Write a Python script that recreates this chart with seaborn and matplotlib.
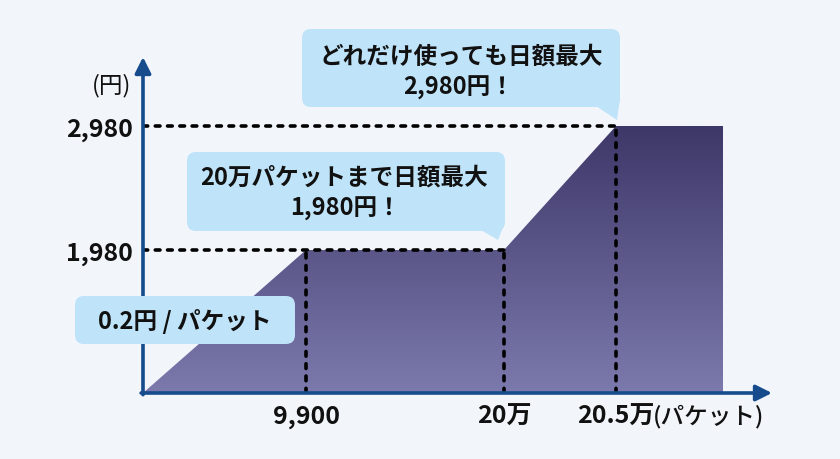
import numpy as np
import pandas as pd
import matplotlib
matplotlib.use("Agg")
import matplotlib.pyplot as plt
import seaborn as sns
from matplotlib.patches import FancyBboxPatch, Polygon
from matplotlib.colors import LinearSegmentedColormap
from matplotlib.transforms import Affine2D

# ---------------- data ----------------
packets = [0, 9900, 200000, 205000, 210000]
price = [0, 1980, 1980, 2980, 2980]
x_tick_values = [9900, 200000, 205000]
x_tick_labels = ["9,900", "20万", "20.5万"]
y_tick_values = [1980, 2980]
y_tick_labels = ["1,980", "2,980"]
x_unit = "(パケット)"
y_unit = "(円)"
callout_top = ["どれだけ使っても日額最大", "2,980円！"]
callout_mid = ["20万パケットまで日額最大", "1,980円！"]
callout_rate = "0.2円 / パケット"

# ---------------- style ----------------
sns.set_theme(style="white")
plt.rcParams["font.family"] = ["Noto Sans CJK JP", "DejaVu Sans"]
BG = "#f2f6fb"
AXIS_C = "#164c8c"
BOX_C = "#bfe3f8"
TOP_C = "#3d3868"
BOT_C = "#7c79ad"

W, H = 840, 460
fig = plt.figure(figsize=(W / 100, H / 100), dpi=100)
fig.patch.set_facecolor(BG)

# plot area in pixels
L, R, T, B = 143, 772, 58, 394
ax = fig.add_axes([L / W, (H - B) / H, (R - L) / W, (B - T) / H])
ax.set_facecolor("none")

# schematic (not-to-scale) axis scales: value breakpoints -> pixel offsets
XB = [0, 9900, 200000, 205000, 210000, 260000]
XP = [0, 163, 361, 473, 580, 1650]
YB = [0, 1980, 2980, 4980]
YP = [0, 143, 267, 515]


def xf(v):
    return np.interp(v, XB, XP)


def xi(p):
    return np.interp(p, XP, XB)


def yf(v):
    return np.interp(v, YB, YP)


def yi(p):
    return np.interp(p, YP, YB)


ax.set_xscale("function", functions=(xf, xi))
ax.set_yscale("function", functions=(yf, yi))

# area polygon with gradient
poly_pts = np.column_stack([packets + [packets[-1]], price + [0]])
poly = Polygon(poly_pts, closed=True, facecolor="none", edgecolor="none")
ax.add_patch(poly)
cmap = LinearSegmentedColormap.from_list("g", [BOT_C, TOP_C])
grad = np.linspace(0, 1, 256).reshape(-1, 1)
top_frac = float(yf(max(price))) / (B - T)
im = ax.imshow(grad, extent=(0, 1, 0, top_frac), transform=ax.transAxes,
               origin="lower", aspect="auto", cmap=cmap, zorder=1)
im.set_clip_path(poly)

# dashed guide lines (seaborn)
level_at_tick = np.interp(x_tick_values, packets, price)
h_end = [x_tick_values[1], x_tick_values[2]]
rows = []
seg = 0
for yv, xe in zip(y_tick_values, h_end):
    rows += [(0, yv, seg), (xe, yv, seg)]
    seg += 1
for xv, lv in zip(x_tick_values, level_at_tick):
    rows += [(xv, 0, seg), (xv, lv, seg)]
    seg += 1
guides = pd.DataFrame(rows, columns=["x", "y", "seg"])
sns.lineplot(data=guides, x="x", y="y", units="seg", estimator=None,
             sort=False, color="black", lw=2.6, ax=ax, zorder=3,
             linestyle=(0, (1.3, 2.1)), dash_capstyle="round")

ax.set_xlim(0, float(xi(R - L)))
ax.set_ylim(0, float(yi(B - T)))

# axes with arrows
ap = dict(arrowstyle="-|>,head_length=0.8,head_width=0.4", color=AXIS_C,
          lw=2.6, shrinkA=0, shrinkB=0, mutation_scale=12)
ax.annotate("", xy=(1, 0), xytext=(-0.003, 0), xycoords="axes fraction",
            arrowprops=ap, zorder=5)
ax.annotate("", xy=(0, 1), xytext=(0, -0.005), xycoords="axes fraction",
            arrowprops=ap, zorder=5)
for s in ax.spines.values():
    s.set_visible(False)

ax.set_xticks(x_tick_values, x_tick_labels)
ax.set_yticks(y_tick_values, y_tick_labels)
ax.tick_params(axis="both", length=0, labelsize=18, labelcolor="#111111")
ax.tick_params(axis="x", pad=8)
ax.tick_params(axis="y", pad=7)
for lab in ax.get_xticklabels() + ax.get_yticklabels():
    lab.set_fontweight("bold")
ax.set_xlabel("")
ax.set_ylabel("")

# pixel transform for annotations (y downwards)
pix = Affine2D().scale(1 / W, -1 / H).translate(0, 1) + fig.transFigure


def ptext(x, y, s, **kw):
    fig.text(x / W, 1 - y / H, s, **kw)


ptext(653, 417, x_unit, ha="left", va="center", fontsize=17,
      color="#111111", fontweight="medium")
ptext(112, 86, y_unit, ha="center", va="center", fontsize=17,
      color="#111111")


def callout(x0, y0, x1, y1, tail=None):
    bx = FancyBboxPatch((x0, y0), x1 - x0, y1 - y0,
                        boxstyle="round,pad=0,rounding_size=9",
                        facecolor=BOX_C, edgecolor="none",
                        transform=pix, zorder=6)
    fig.add_artist(bx)
    if tail is not None:
        fig.add_artist(Polygon(tail, closed=True, facecolor=BOX_C,
                               edgecolor="none", transform=pix, zorder=6))


callout(302, 30, 620, 108, [(596, 107), (620, 100), (617, 121)])
ptext(461, 57, callout_top[0], ha="center", va="center", fontsize=17,
      fontweight="bold", color="#111111", zorder=7)
ptext(459, 88, callout_top[1], ha="center", va="center", fontsize=17,
      fontweight="bold", color="#111111", zorder=7)

callout(187, 153, 505, 232, [(481, 231), (504, 226), (498, 241)])
ptext(344, 178, callout_mid[0], ha="center", va="center", fontsize=17,
      fontweight="bold", color="#111111", zorder=7)
ptext(346, 209, callout_mid[1], ha="center", va="center", fontsize=17,
      fontweight="bold", color="#111111", zorder=7)

callout(75, 297, 295, 345)
ptext(185, 322, callout_rate, ha="center", va="center", fontsize=17,
      fontweight="bold", color="#111111", zorder=7)

fig.savefig("out.png", dpi=100, facecolor=BG)
